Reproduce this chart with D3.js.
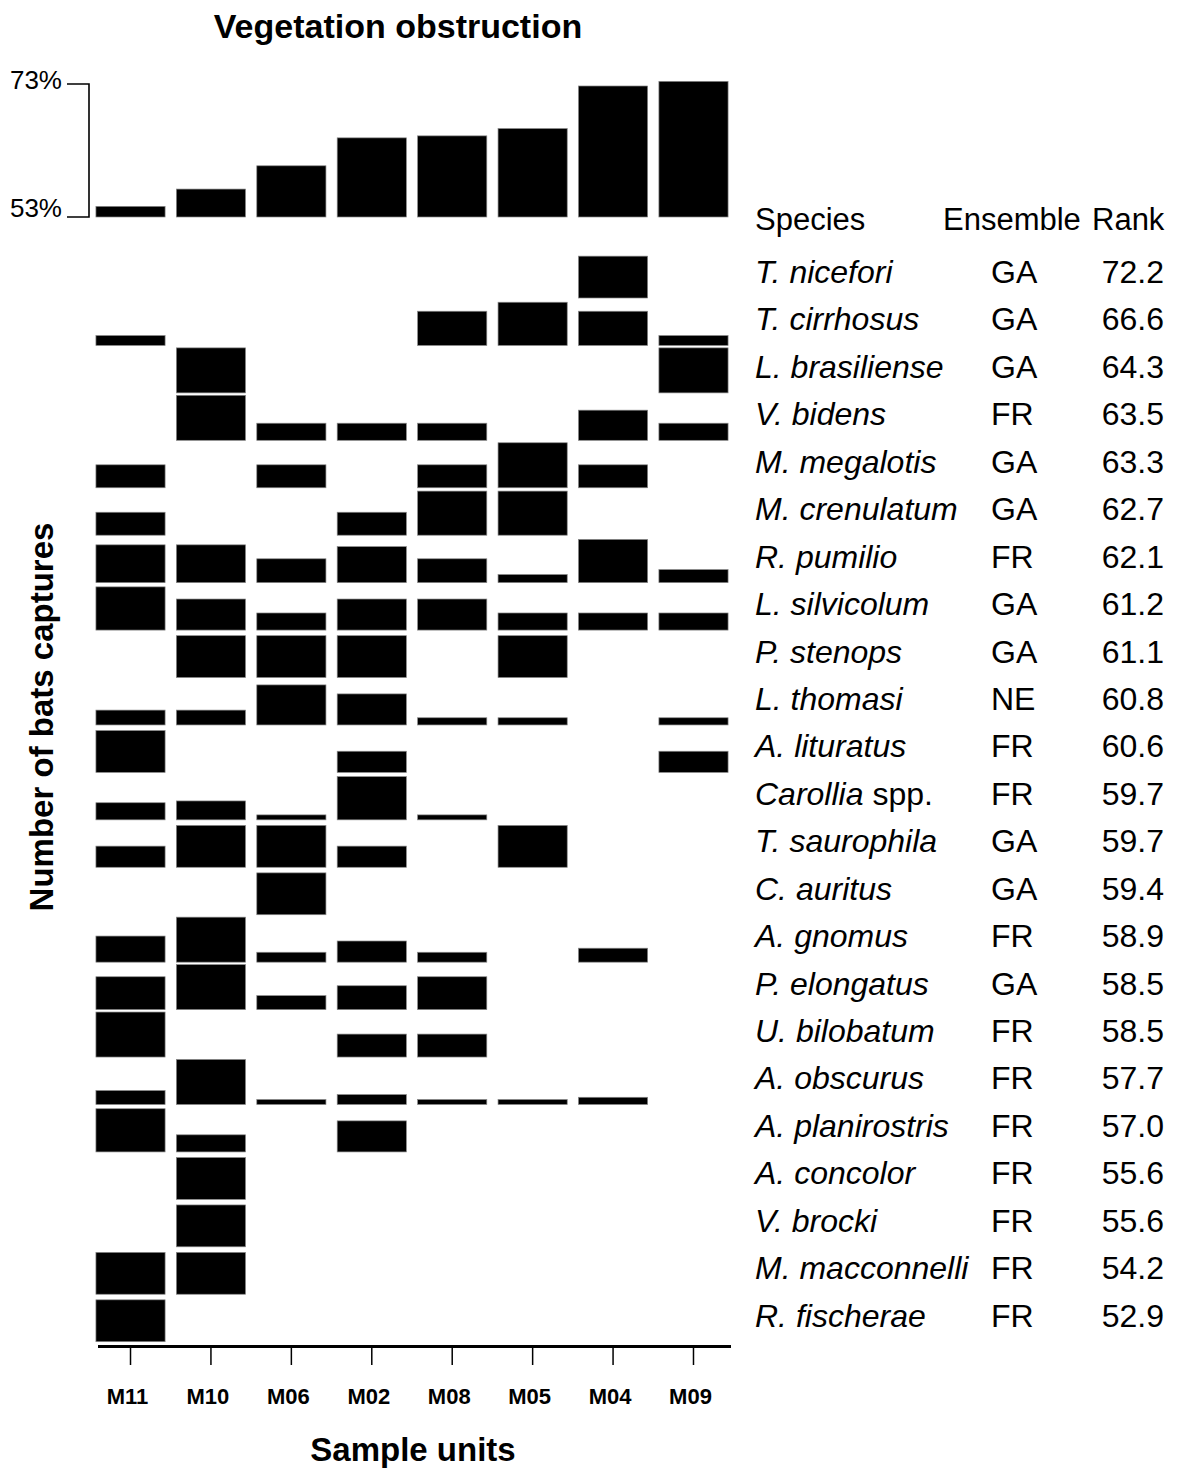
<!DOCTYPE html>
<html>
<head>
<meta charset="utf-8">
<script src="https://cdn.jsdelivr.net/npm/d3@7"></script>
<style>
  body { margin: 0; background: #fff; }
  svg text { font-family: "Liberation Sans", Arial, sans-serif; fill: #000; }
</style>
</head>
<body>
<svg id="chart" width="1185" height="1470"></svg>
<script>
// sample units, ordered by vegetation obstruction
const units = ["M11", "M10", "M06", "M02", "M08", "M05", "M04", "M09"];
const obstruction = [54.6, 57.2, 60.7, 64.9, 65.2, 66.3, 72.7, 73.4];

const species = ["T. nicefori", "T. cirrhosus", "L. brasiliense", "V. bidens", "M. megalotis",
  "M. crenulatum", "R. pumilio", "L. silvicolum", "P. stenops", "L. thomasi", "A. lituratus",
  "Carollia spp.", "T. saurophila", "C. auritus", "A. gnomus", "P. elongatus", "U. bilobatum",
  "A. obscurus", "A. planirostris", "A. concolor", "V. brocki", "M. macconnelli", "R. fischerae"];
const ensemble = ["GA", "GA", "GA", "FR", "GA", "GA", "FR", "GA", "GA", "NE", "FR", "FR", "GA",
  "GA", "FR", "GA", "FR", "FR", "FR", "FR", "FR", "FR", "FR"];
const rank = ["72.2", "66.6", "64.3", "63.5", "63.3", "62.7", "62.1", "61.2", "61.1", "60.8", "60.6",
  "59.7", "59.7", "59.4", "58.9", "58.5", "58.5", "57.7", "57.0", "55.6", "55.6", "54.2", "52.9"];

// captures per species and unit, relative to the species maximum (0-100), same order as units
const captures = [
  [0, 0, 0, 0, 0, 0, 93, 0],
  [22, 0, 0, 0, 76, 96, 76, 22],
  [0, 100, 0, 0, 0, 0, 0, 100],
  [0, 100, 38, 38, 38, 0, 67, 38],
  [51, 0, 51, 0, 51, 100, 51, 0],
  [51, 0, 0, 51, 98, 98, 0, 0],
  [84, 84, 53, 80, 53, 18, 96, 29],
  [96, 69, 38, 69, 69, 38, 38, 38],
  [0, 93, 93, 93, 0, 93, 0, 0],
  [33, 33, 89, 69, 16, 16, 0, 16],
  [93, 0, 0, 47, 0, 0, 0, 47],
  [38, 42, 11, 96, 11, 0, 0, 0],
  [47, 93, 93, 47, 0, 93, 0, 0],
  [0, 0, 93, 0, 0, 0, 0, 0],
  [58, 100, 22, 47, 22, 0, 31, 0],
  [73, 100, 31, 53, 73, 0, 0, 0],
  [100, 0, 0, 51, 51, 0, 0, 0],
  [31, 100, 11, 22, 11, 11, 16, 0],
  [96, 38, 0, 69, 0, 0, 0, 0],
  [0, 93, 0, 0, 0, 0, 0, 0],
  [0, 93, 0, 0, 0, 0, 0, 0],
  [93, 93, 0, 0, 0, 0, 0, 0],
  [93, 0, 0, 0, 0, 0, 0, 0]
];

const svg = d3.select("#chart");

const x = d3.scaleBand()
    .domain(units)
    .range([90.3, 733.7])
    .paddingInner(0.14)
    .paddingOuter(0.07);

// top panel: vegetation obstruction
const yTop = d3.scaleLinear().domain([53, 73]).range([217, 84]);

svg.append("text")
    .attr("x", 398).attr("y", 38)
    .attr("text-anchor", "middle")
    .attr("font-size", 34).attr("font-weight", "bold")
    .text("Vegetation obstruction");

svg.append("path")
    .attr("d", `M67,${yTop(73)}H89V${yTop(53)}H67`)
    .attr("fill", "none").attr("stroke", "#000").attr("stroke-width", 1.6);

svg.selectAll(".pct")
    .data([73, 53])
    .enter().append("text")
    .attr("x", 62)
    .attr("y", d => yTop(d) + (d === 73 ? 5 : 0))
    .attr("text-anchor", "end")
    .attr("font-size", 26)
    .text(d => d + "%");

svg.selectAll(".obs")
    .data(obstruction)
    .enter().append("rect")
    .attr("x", (d, i) => x(units[i]))
    .attr("y", d => yTop(d))
    .attr("width", x.bandwidth())
    .attr("height", d => yTop(53) - yTop(d))
    .attr("fill", "#000").attr("stroke", "#888").attr("stroke-width", 0.7);

// species rows
const step = 47.44;
const yRow = d3.scaleBand()
    .domain(species)
    .range([298 - step, 298 - step + species.length * step]);
const h = d3.scaleLinear().domain([0, 100]).range([0, 45]);

const rows = svg.selectAll(".row")
    .data(species)
    .enter().append("g")
    .attr("transform", d => `translate(0,${yRow(d) + yRow.bandwidth()})`);

rows.selectAll("rect")
    .data((d, i) => captures[i].map((v, j) => ({ unit: units[j], v: v })).filter(c => c.v > 0))
    .enter().append("rect")
    .attr("x", c => x(c.unit))
    .attr("y", c => -h(c.v))
    .attr("width", x.bandwidth())
    .attr("height", c => h(c.v))
    .attr("fill", "#000").attr("stroke", "#888").attr("stroke-width", 0.7);

// species table
const table = svg.append("g").attr("font-size", 32);
const headY = 230;
table.append("text").attr("x", 755).attr("y", headY).attr("font-size", 31).text("Species");
table.append("text").attr("x", 943).attr("y", headY).attr("font-size", 31).text("Ensemble");
table.append("text").attr("x", 1092).attr("y", headY).attr("font-size", 31).text("Rank");

species.forEach((s, i) => {
    const ty = yRow(s) + yRow.bandwidth() - 15;
    const t = table.append("text").attr("x", 755).attr("y", ty);
    if (s === "Carollia spp.") {
        t.append("tspan").attr("font-style", "italic").text("Carollia");
        t.append("tspan").text(" spp.");
    } else {
        t.attr("font-style", "italic").text(s);
    }
    table.append("text").attr("x", 991).attr("y", ty).text(ensemble[i]);
    table.append("text").attr("x", 1164).attr("y", ty).attr("text-anchor", "end").text(rank[i]);
});

// x axis
const axisY = 1346.5;
svg.append("line")
    .attr("x1", 98).attr("x2", 731)
    .attr("y1", axisY).attr("y2", axisY)
    .attr("stroke", "#000").attr("stroke-width", 3);

const xAxis = svg.append("g")
    .attr("transform", `translate(0,${axisY + 1.5})`)
    .call(d3.axisBottom(x).tickSize(17).tickPadding(23));
xAxis.select(".domain").remove();
xAxis.selectAll(".tick line").attr("stroke-width", 1.5);
xAxis.selectAll(".tick text")
    .attr("dx", -3)
    .attr("font-size", 22).attr("font-weight", "bold")
    .attr("font-family", "Liberation Sans, Arial, sans-serif");

svg.append("text")
    .attr("x", 413).attr("y", 1461)
    .attr("text-anchor", "middle")
    .attr("font-size", 33).attr("font-weight", "bold")
    .text("Sample units");

svg.append("text")
    .attr("transform", "translate(53,717) rotate(-90)")
    .attr("text-anchor", "middle")
    .attr("font-size", 33).attr("font-weight", "bold")
    .text("Number of bats captures");
</script>
</body>
</html>
